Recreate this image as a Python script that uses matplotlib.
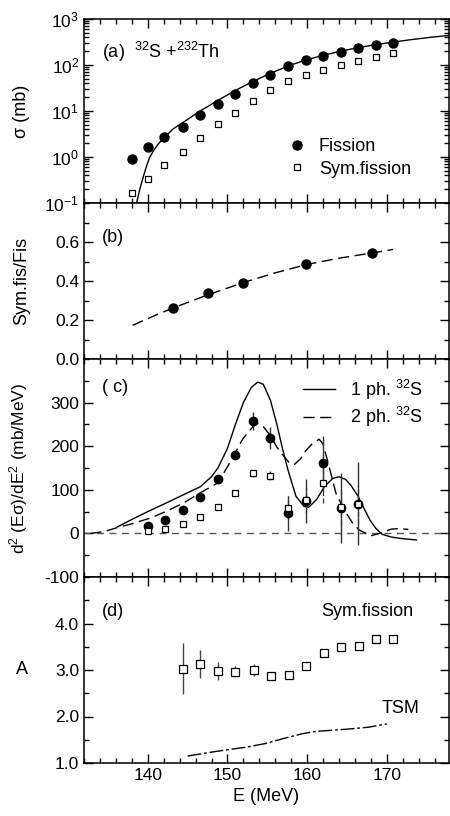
import numpy as np
import matplotlib
matplotlib.use("Agg")
import matplotlib.pyplot as plt
from matplotlib.ticker import MultipleLocator, FixedLocator, FuncFormatter, LogLocator, NullFormatter
from matplotlib.lines import Line2D

plt.rcParams["font.family"] = ["Liberation Sans", "DejaVu Sans"]
plt.rcParams["mathtext.default"] = "regular"
plt.rcParams["axes.unicode_minus"] = False
plt.rcParams["font.size"] = 12.5

# 1. Data
# (a) cross sections
E_a = [138.0, 140.0, 142.1, 144.4, 146.5, 148.8, 151.0, 153.2, 155.4, 157.6,
       159.8, 162.0, 164.2, 166.4, 168.6, 170.8]
fis_a = [0.92, 1.65, 2.7, 4.46, 8.2, 14.2, 23.8, 40, 62, 97, 129, 155, 196, 230, 270, 308]
sym_a = [0.161, 0.334, 0.67, 1.26, 2.62, 5.17, 9.25, 16.5, 28, 45.5, 61, 78.7, 102, 125, 148, 178]
curve_a_E = [138.6, 139.0, 139.4, 139.8, 140.2, 140.7, 141.3, 142.1, 143.2, 144.4,
             146.5, 148.8, 151.0, 153.2, 155.4, 157.6, 159.8, 162.0, 164.2, 166.4,
             168.6, 170.8, 173.0, 175.5, 177.8]
curve_a = [0.1, 0.2, 0.35, 0.6, 0.95, 1.35, 1.9, 2.7, 4.1, 5.6,
           9.8, 17, 28, 44, 66, 95, 128, 162, 200, 238,
           277, 315, 355, 400, 440]

# (b) ratio
E_b = [143.2, 147.6, 152.0, 159.9, 168.2]
ratio_b = [0.262, 0.336, 0.389, 0.488, 0.542]
curve_b_E = [138.1, 141.0, 143.2, 147.6, 152.0, 156.0, 160.0, 164.0, 168.0, 170.8]
curve_b = [0.173, 0.225, 0.262, 0.330, 0.392, 0.442, 0.485, 0.517, 0.543, 0.562]

# (c) second derivative
E_c = [140.0, 142.2, 144.4, 146.6, 148.8, 151.0, 153.2, 155.4, 157.6, 159.8, 162.0, 164.2, 166.4]
fis_c = [16, 30, 53, 84, 125, 180, 258, 218, 46, 75, 161, 59, 68]
fis_c_err = [0, 0, 0, 0, 5, 10, 20, 25, 40, 50, 63, 80, 95]
sym_c = [5, 11, 22, 37, 60, 92, 138, 132, 58, 77, 115, 60, 67]
sym_c_err = [0, 0, 0, 0, 0, 5, 8, 10, 28, 30, 45, 40, 45]
ph1_E = [136.2, 138.0, 140.0, 142.0, 144.4, 146.6, 148.0, 148.8, 150.0, 151.0,
         152.0, 153.0, 153.8, 154.5, 155.4, 156.2, 156.9, 157.6, 158.6, 159.6,
         160.2, 161.2, 162.2, 163.2, 164.0, 164.8, 165.5, 166.4, 167.2, 167.9,
         168.6, 169.4, 170.5, 171.5, 172.5, 173.7]
ph1 = [15, 32, 50, 67, 88, 107, 130, 150, 195, 250,
       300, 335, 347, 342, 305, 250, 195, 145, 85, 62,
       60, 78, 108, 126, 130, 124, 110, 85, 55, 30,
       12, -2, -8, -11, -13, -15]
ph2_E = [132.8, 134.5, 136.3, 138.0, 140.3, 142.5, 144.5, 146.6, 148.8, 150.3,
         151.9, 153.2, 153.8, 154.5, 155.4, 156.2, 156.9, 157.8, 158.4, 159.2,
         159.8, 160.6, 161.5, 162.0, 162.8, 163.6, 164.6, 165.7, 166.5, 167.2,
         168.1, 169.4, 170.6, 171.7, 172.7]
ph2 = [0, 4, 14, 22, 35, 52, 70, 93, 116, 162,
       216, 245, 252, 245, 224, 198, 181, 161, 158, 172,
       189, 205, 216, 205, 150, 93, 55, 24, 8, 2,
       -5, 2, 10, 11, 9]

# (d) mass asymmetry
E_d = [144.4, 146.6, 148.8, 151.0, 153.3, 155.5, 157.7, 159.9, 162.1, 164.3, 166.5, 168.7, 170.8]
A_d = [3.03, 3.13, 2.98, 2.96, 3.00, 2.87, 2.89, 3.08, 3.36, 3.49, 3.51, 3.67, 3.67]
A_err = [0.54, 0.30, 0.20, 0.12, 0.12, 0, 0, 0, 0, 0, 0, 0, 0]
tsm_E = [145.0, 148.6, 152.7, 154.8, 156.9, 159.4, 161.1, 165.2, 167.7, 170.0]
tsm_A = [1.15, 1.25, 1.35, 1.42, 1.52, 1.63, 1.68, 1.73, 1.77, 1.84]

# 2. Figure layout
fig = plt.figure(figsize=(4.5, 8.16), dpi=100)
gs = fig.add_gridspec(4, 1, height_ratios=[184, 156, 218, 186], hspace=0,
                      left=84 / 450, right=449 / 450, top=1 - 19 / 816, bottom=1 - 763 / 816)
axes = [fig.add_subplot(gs[i]) for i in range(4)]
for ax in axes[1:]:
    ax.sharex(axes[0])

for ax in axes:
    ax.set_xlim(132, 177.8)
    ax.xaxis.set_major_locator(MultipleLocator(10))
    ax.xaxis.set_minor_locator(MultipleLocator(2))
    ax.tick_params(which="both", direction="in", top=True, right=True, width=1)
    ax.tick_params(which="major", length=6.5)
    ax.tick_params(which="minor", length=3.5)
    for s in ax.spines.values():
        s.set_linewidth(1.1)
    ax.yaxis.set_label_coords(-0.148, 0.5)
for ax in axes[:3]:
    ax.tick_params(labelbottom=False)

# (a)
ax = axes[0]
ax.set_yscale("log")
ax.set_ylim(0.1, 1000)
ax.yaxis.set_major_locator(FixedLocator([0.1, 1, 10, 100, 1000]))
ax.yaxis.set_major_formatter(FuncFormatter(lambda v, p: "$10^{%d}$" % round(np.log10(v))))
ax.yaxis.set_minor_locator(LogLocator(base=10, subs=np.arange(2, 10)))
ax.yaxis.set_minor_formatter(NullFormatter())
ax.plot(curve_a_E, curve_a, color="black", lw=1.0)
ax.plot(E_a, fis_a, "o", color="black", ms=6.5)
ax.plot(E_a, sym_a, "s", mfc="white", mec="black", mew=0.9, ms=4)
ax.text(0.05, 0.79, "(a)  $^{32}$S +$^{232}$Th", transform=ax.transAxes, fontsize=13)
ax.set_ylabel("σ (mb)", fontsize=13)
h1 = Line2D([], [], ls="none", marker="o", color="black", ms=6.5)
h2 = Line2D([], [], ls="none", marker="s", mfc="white", mec="black", mew=0.9, ms=4)
ax.legend([h1, h2], ["Fission", "Sym.fission"], loc="lower left",
          bbox_to_anchor=(0.51, 0.05), frameon=False, handletextpad=0.6,
          labelspacing=0.3, fontsize=13, handlelength=1.2)

# (b)
ax = axes[1]
ax.set_ylim(0, 0.8)
ax.yaxis.set_major_locator(FixedLocator([0.0, 0.2, 0.4, 0.6]))
ax.yaxis.set_major_formatter(FuncFormatter(lambda v, p: "%.1f" % v))
ax.yaxis.set_minor_locator(MultipleLocator(0.1))
ax.plot(curve_b_E, curve_b, color="black", lw=1.0, dashes=(8, 4))
ax.plot(E_b, ratio_b, "o", color="black", ms=6.5)
ax.text(0.05, 0.75, "(b)", transform=ax.transAxes, fontsize=13)
ax.set_ylabel("Sym.fis/Fis", fontsize=13)

# (c)
ax = axes[2]
ax.set_ylim(-100, 400)
ax.yaxis.set_major_locator(FixedLocator([-100, 0, 100, 200, 300]))
ax.yaxis.set_minor_locator(MultipleLocator(50))
ax.axhline(0, color="#555555", lw=1.0, dashes=(5, 4))
ax.plot(ph1_E, ph1, color="black", lw=1.0, label="1 ph. $^{32}$S")
ax.plot(ph2_E, ph2, color="black", lw=1.0, dashes=(8, 4), label="2 ph. $^{32}$S")
ax.errorbar(E_c, fis_c, yerr=fis_c_err, fmt="o", color="black", ms=6, ecolor="#333333", elinewidth=1.0)
eb = ax.errorbar(E_c, sym_c, yerr=sym_c_err, fmt="s", mfc="white", mec="black", mew=0.9, ms=4,
                 ecolor="#333333", elinewidth=0.9)
eb[2][0].set_linestyle((0, (4, 2)))
ax.text(0.05, 0.85, "( c)", transform=ax.transAxes, fontsize=13)
ax.legend(loc="upper left", bbox_to_anchor=(0.555, 0.99), frameon=False, handlelength=1.8,
          handletextpad=0.8, labelspacing=0.2, fontsize=13)
ax.set_ylabel("d$^2$ (Eσ)/dE$^2$ (mb/MeV)", fontsize=12.5)

# (d)
ax = axes[3]
ax.set_ylim(1, 5)
ax.yaxis.set_major_locator(FixedLocator([1, 2, 3, 4]))
ax.yaxis.set_major_formatter(FuncFormatter(lambda v, p: "%.1f" % v))
ax.yaxis.set_minor_locator(MultipleLocator(0.5))
ax.errorbar(E_d, A_d, yerr=A_err, fmt="s", mfc="white", mec="black", mew=0.9, ms=5.5,
            ecolor="#444444", elinewidth=1.0)
ax.plot(tsm_E, tsm_A, color="black", lw=1.0, dashes=(10, 2, 2, 2))
ax.text(0.05, 0.79, "(d)", transform=ax.transAxes, fontsize=13)
ax.text(0.65, 0.79, "Sym.fission", transform=ax.transAxes, fontsize=13)
ax.text(0.815, 0.27, "TSM", transform=ax.transAxes, fontsize=13)
ax.set_ylabel("A", fontsize=13, rotation=0, va="center")
ax.yaxis.set_label_coords(-0.17, 0.5)
ax.set_xlabel("E (MeV)", fontsize=13)

fig.savefig("out.png", dpi=100)
